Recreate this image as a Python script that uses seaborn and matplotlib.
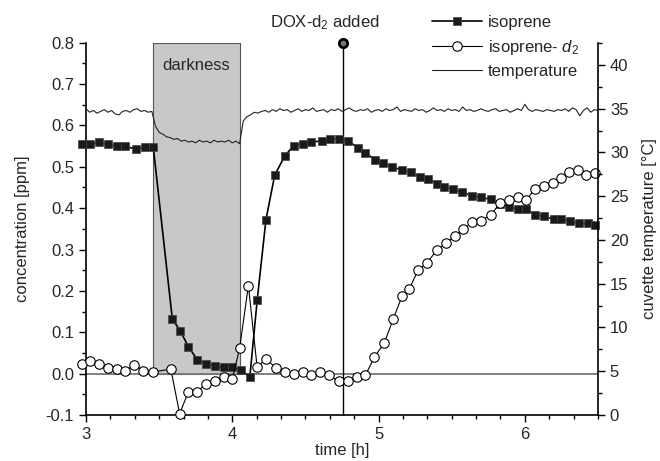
import numpy as np
import matplotlib
matplotlib.use('Agg')
import matplotlib.pyplot as plt
from matplotlib.ticker import MultipleLocator
import seaborn as sns

sns.set_style("ticks")
plt.rcParams['font.family'] = ['Liberation Sans', 'DejaVu Sans']
plt.rcParams['mathtext.fontset'] = 'custom'
plt.rcParams['mathtext.rm'] = 'Liberation Sans'
plt.rcParams['mathtext.it'] = 'Liberation Sans:italic'
plt.rcParams['axes.unicode_minus'] = False

# isoprene (filled squares), ppm
iso_t = [2.97, 3.03, 3.09, 3.15, 3.21, 3.27, 3.34, 3.40, 3.46,
         3.59, 3.645, 3.70, 3.76, 3.82, 3.88, 3.94, 4.00, 4.06, 4.12,
         4.17, 4.23, 4.29, 4.36, 4.42, 4.48, 4.54, 4.61, 4.67, 4.73, 4.79,
         4.86, 4.91, 4.975, 5.03, 5.09, 5.16, 5.22, 5.28, 5.34, 5.40, 5.45, 5.51, 5.57, 5.64,
         5.70, 5.77, 5.83, 5.89, 5.95, 6.01, 6.07, 6.13, 6.20, 6.25, 6.31, 6.37, 6.43, 6.48]
iso_c = [0.555, 0.555, 0.559, 0.554, 0.550, 0.550, 0.542, 0.547, 0.547,
         0.132, 0.103, 0.065, 0.034, 0.024, 0.019, 0.015, 0.015, 0.008, -0.008,
         0.177, 0.372, 0.480, 0.527, 0.551, 0.556, 0.559, 0.563, 0.567, 0.567, 0.563,
         0.546, 0.534, 0.517, 0.509, 0.500, 0.492, 0.487, 0.476, 0.471, 0.459, 0.450, 0.447, 0.438, 0.430,
         0.426, 0.421, 0.409, 0.404, 0.398, 0.398, 0.384, 0.380, 0.373, 0.373, 0.368, 0.363, 0.363, 0.360]

# isoprene-d2 (open circles), ppm
d2_t = [2.97, 3.03, 3.09, 3.15, 3.21, 3.27, 3.33, 3.39, 3.46,
        3.58, 3.64, 3.70, 3.76, 3.82, 3.88, 3.94, 4.00, 4.05, 4.11,
        4.17, 4.23, 4.30, 4.36, 4.42, 4.48, 4.54, 4.60, 4.66, 4.73, 4.79,
        4.85, 4.91, 4.97, 5.04, 5.10, 5.16, 5.21, 5.27, 5.33, 5.40, 5.46, 5.52, 5.58, 5.64,
        5.70, 5.77, 5.83, 5.89, 5.95, 6.01, 6.07, 6.13, 6.19, 6.25, 6.30, 6.36, 6.42, 6.48]
d2_c = [0.023, 0.031, 0.023, 0.014, 0.011, 0.006, 0.022, 0.007, 0.004,
        0.011, -0.097, -0.044, -0.044, -0.024, -0.017, -0.008, -0.013, 0.061, 0.213,
        0.015, 0.036, 0.013, 0.004, -0.002, 0.004, -0.003, 0.004, -0.004, -0.019, -0.019,
        -0.007, -0.004, 0.039, 0.075, 0.132, 0.187, 0.205, 0.250, 0.267, 0.300, 0.315, 0.333, 0.349, 0.366,
        0.370, 0.384, 0.413, 0.420, 0.428, 0.420, 0.447, 0.453, 0.461, 0.472, 0.487, 0.492, 0.479, 0.485]

# cuvette temperature, sampled every 0.025 h from 3.0 h
temp_start, temp_step = 3.0, 0.025
temp_c = [35.0, 34.6, 34.8, 34.5, 34.7, 34.9, 34.6, 34.8, 34.4, 34.3,
          34.7, 34.8, 34.6, 34.9, 35.0, 34.7, 34.8, 34.6, 34.7,
          33.0, 32.3, 32.1, 31.8, 31.7, 31.5, 31.6, 31.3, 31.4, 31.2,
          31.3, 31.1, 31.4, 31.2, 31.3, 31.1, 31.4, 31.2, 31.3, 31.2, 31.4, 31.1, 31.3,
          31.0, 33.6, 34.1, 34.3, 34.6, 34.5, 34.7,
          34.8, 34.6, 34.9, 34.7, 35.0, 34.8, 34.9, 34.6, 34.8, 35.0,
          34.7, 34.9, 34.8, 35.1, 34.7, 34.8, 34.9, 34.6, 34.9, 34.8,
          35.0, 34.7, 34.9, 35.1, 34.8, 34.7, 34.9, 34.8, 35.0, 34.6,
          34.8, 34.9, 34.7, 35.0, 34.8, 34.9, 35.2, 34.7, 34.9, 34.8,
          34.7, 35.0, 34.8, 34.9, 34.6, 34.8, 35.1, 34.8, 34.9, 34.7,
          35.0, 34.8, 34.9, 34.7, 35.2, 34.8, 34.9, 34.7, 34.8, 35.0,
          34.8, 34.7, 34.9, 35.0, 34.7, 34.8, 34.9, 34.6, 34.8, 35.0,
          34.8, 35.5, 34.9, 34.7, 34.9, 34.8, 34.7, 34.9, 34.8, 34.7,
          34.9, 34.8, 35.0, 34.7, 35.1, 34.9, 34.2, 34.8, 35.1, 34.6,
          34.9, 34.8]
temp_t = temp_start + temp_step * np.arange(len(temp_c))

dark_start, dark_end = 3.455, 4.05
dox_time = 4.76

fs = 12
fig = plt.figure(figsize=(6.6, 4.61), dpi=100)
ax = fig.add_axes([0.1303, 0.0998, 0.7758, 0.8076])
ax2 = ax.twinx()

# darkness box
ax.fill_betweenx([0, 0.8], dark_start, dark_end, facecolor='#c8c8c8', edgecolor='#555555', linewidth=0.8, zorder=0)
ax.text((dark_start + dark_end) / 2, 0.745, 'darkness', ha='center', va='center', fontsize=fs)
ax.axhline(0, color='#777777', linewidth=1.3, zorder=1)

# DOX-d2 line
ax.plot([dox_time, dox_time], [-0.1, 0.8], color='black', linewidth=1, zorder=2, clip_on=False)
ax.plot([dox_time], [0.8], marker='o', markersize=6, markerfacecolor='#777777',
        markeredgecolor='black', markeredgewidth=2, clip_on=False, zorder=6)
ax.text(4.63, 1.04, 'DOX-$\\mathrm{d}_2$ added', transform=ax.get_xaxis_transform(),
        ha='center', va='baseline', fontsize=fs)

sns.lineplot(x=iso_t, y=iso_c, ax=ax, estimator=None, legend=False, label='isoprene',
             color='black', linewidth=1.2, marker='s', markersize=6,
             markerfacecolor='#1a1a1a', markeredgecolor='#444444', markeredgewidth=0.5,
             clip_on=False, zorder=3)
sns.lineplot(x=d2_t, y=d2_c, ax=ax, estimator=None, legend=False, label='isoprene- $d_2$',
             color='black', linewidth=0.8, marker='o', markersize=6.8,
             markerfacecolor='white', markeredgecolor='black', markeredgewidth=0.8,
             clip_on=False, zorder=4)
sns.lineplot(x=temp_t, y=temp_c, ax=ax2, estimator=None, legend=False, label='temperature',
             color='#222222', linewidth=0.8)

ax.set_xlim(3, 6.5)
ax.set_ylim(-0.1, 0.8)
ax2.set_ylim(0, 42.55)
ax.xaxis.set_major_locator(MultipleLocator(1))
ax.xaxis.set_minor_locator(MultipleLocator(1 / 6))
ax.yaxis.set_major_locator(MultipleLocator(0.1))
ax.yaxis.set_minor_locator(MultipleLocator(0.05))
ax2.yaxis.set_major_locator(MultipleLocator(5))
ax2.yaxis.set_minor_locator(MultipleLocator(2.5))
ax.yaxis.set_major_formatter(matplotlib.ticker.FormatStrFormatter('%.1f'))

for a in (ax, ax2):
    a.tick_params(which='major', direction='out', length=5, width=1, labelsize=fs, color='black')
    a.tick_params(which='minor', direction='out', length=3, width=1, color='black')
    a.spines['top'].set_visible(False)
    for s in a.spines.values():
        s.set_linewidth(1.2)
        s.set_color('black')
ax.spines['right'].set_visible(False)
ax2.spines['left'].set_visible(False)
ax2.spines['bottom'].set_visible(False)

ax.set_xlabel('time [h]', fontsize=fs, labelpad=1)
ax.set_ylabel('concentration [ppm]', fontsize=fs, labelpad=11)
ax2.set_ylabel('cuvette temperature [°C]', fontsize=fs, labelpad=10)

h1, l1 = ax.get_legend_handles_labels()
h2, l2 = ax2.get_legend_handles_labels()
fig.legend(h1 + h2, l1 + l2, loc='upper left', bbox_to_anchor=(0.655, 0.967),
           frameon=False, fontsize=fs, handlelength=3.0, handletextpad=0.35,
           labelspacing=0.45, borderpad=0, borderaxespad=0)

fig.savefig('out.png', dpi=100)
